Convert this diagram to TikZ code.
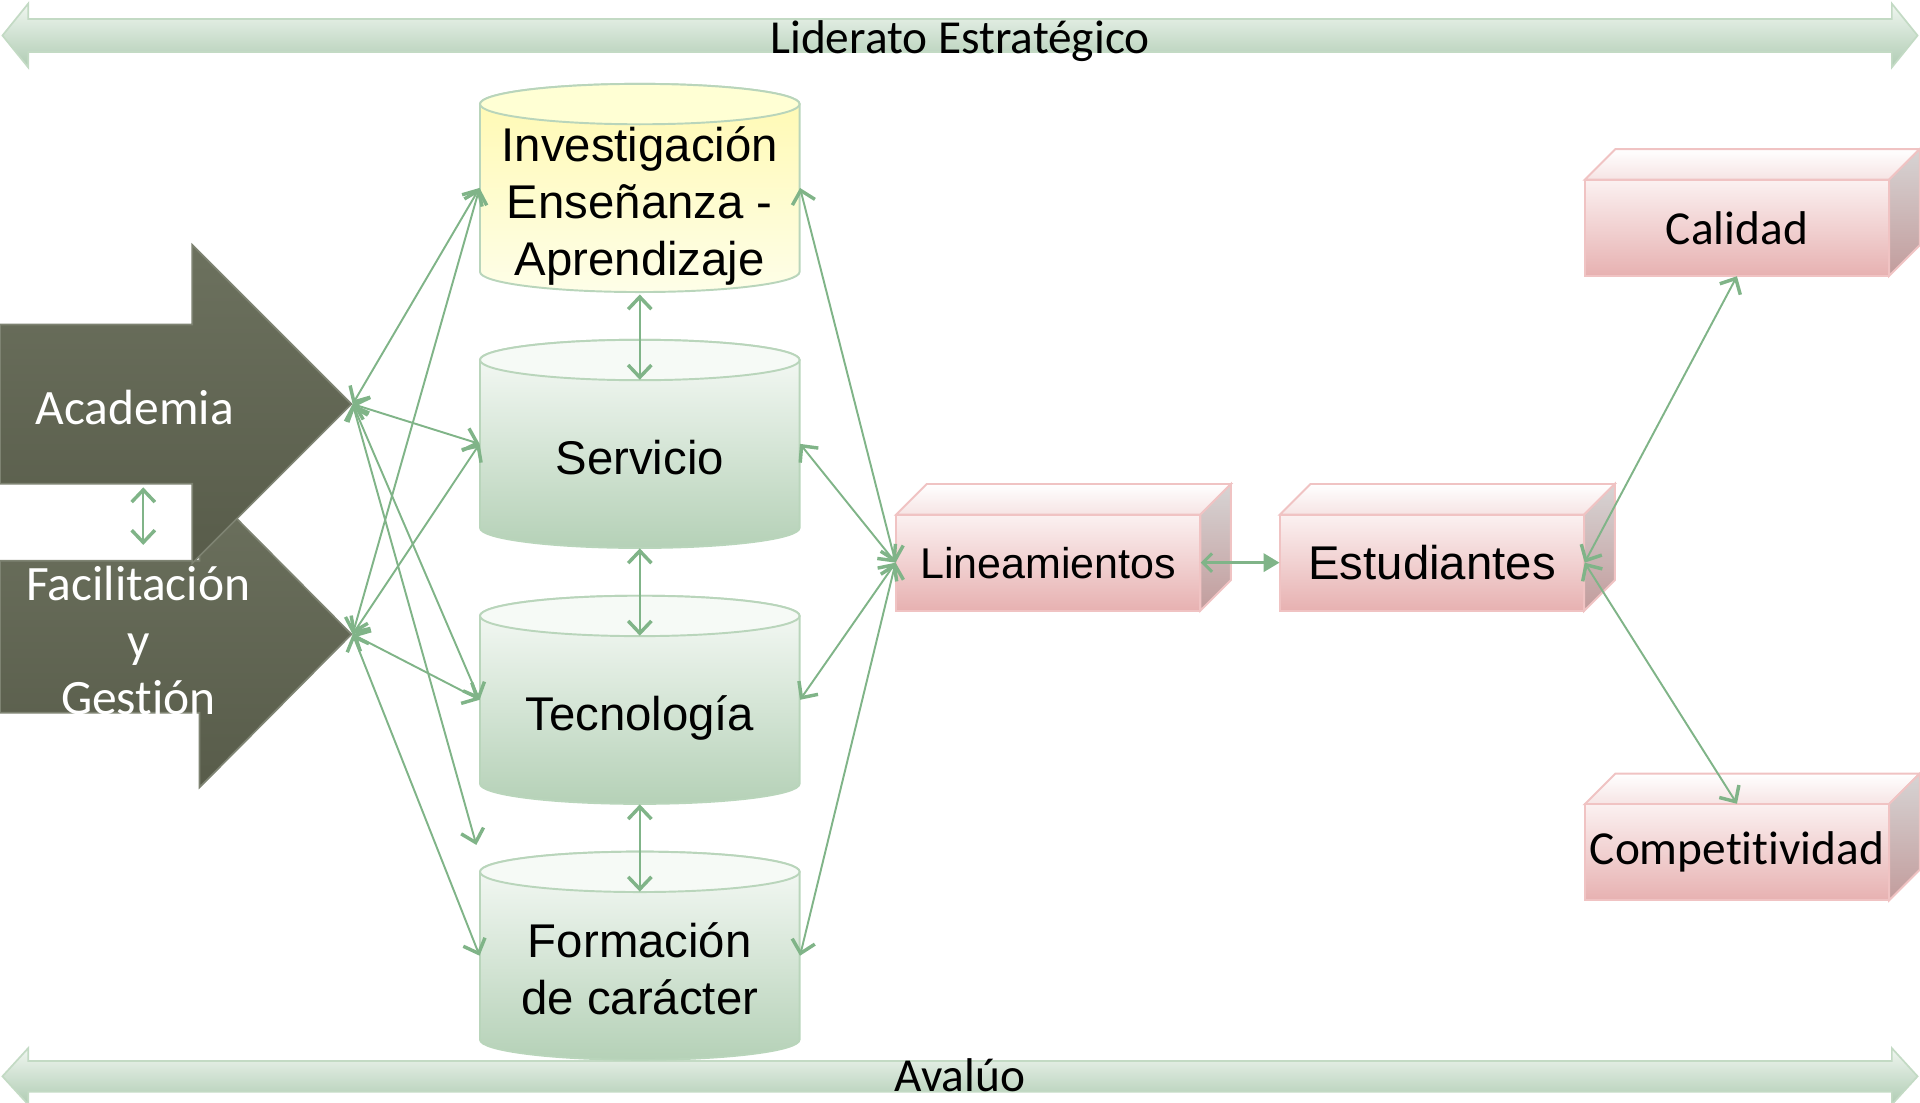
\documentclass[tikz,border=0pt]{standalone}
\usepackage{fontspec}
\setmainfont{Liberation Sans}
\newfontfamily\calib{Carlito}[Ligatures={NoCommon}]
\usetikzlibrary{calc,arrows.meta}

\definecolor{linkgreen}{HTML}{80B488}
\definecolor{arrowlite}{HTML}{6C715E}
\definecolor{arrowdark}{HTML}{585C4A}
\definecolor{arrowedge}{HTML}{7E8372}
\definecolor{bandtop}{HTML}{F0F6F0}
\definecolor{bandmid}{HTML}{CFE2D0}
\definecolor{bandlow}{HTML}{AFCCB3}
\definecolor{bandline}{HTML}{C3DAC4}
\definecolor{drumline}{HTML}{B9D5BB}
\definecolor{greentop}{HTML}{F8FBF8}
\definecolor{greenlow}{HTML}{B5D1B7}
\definecolor{greenlid}{HTML}{F6FAF6}
\definecolor{yelltop}{HTML}{FFF9B0}
\definecolor{yelllow}{HTML}{FEFEE8}
\definecolor{yelllid}{HTML}{FFFFD4}
\definecolor{crateline}{HTML}{F0C3C3}
\definecolor{fronttop}{HTML}{FBF1F1}
\definecolor{frontlow}{HTML}{E7B1B1}
\definecolor{cratelid}{HTML}{F6E4E4}
\definecolor{sidetop}{HTML}{D7D4D4}
\definecolor{sidelow}{HTML}{C29C9C}

% drum: centre x, top y, body top colour, body bottom colour, lid colour
\def\drum(#1,#2)#3#4#5{%
  \shadedraw[top color=#3, bottom color=#4, draw=drumline, line width=0.9pt]
    (#1-2.61,#2) -- (#1-2.61,#2-2.74) arc (180:360:2.61 and 0.33)
    -- (#1+2.61,#2) arc (0:180:2.61 and 0.33) -- cycle;
  \filldraw[fill=#5, draw=drumline, line width=0.9pt] (#1,#2) ellipse (2.61 and 0.33);}
% crate: centre of the front face
\def\crate(#1,#2){%
  \shadedraw[top color=white, bottom color=cratelid, draw=crateline, line width=0.9pt]
    (#1-2.485,#2+0.785) -- ++(0.5,0.5) -- ++(4.97,0) -- ++(-0.5,-0.5) -- cycle;
  \shadedraw[top color=sidetop, bottom color=sidelow, draw=crateline, line width=0.9pt]
    (#1+2.485,#2+0.785) -- ++(0.5,0.5) -- ++(0,-1.57) -- ++(-0.5,-0.5) -- cycle;
  \shadedraw[top color=fronttop, bottom color=frontlow, draw=crateline, line width=0.9pt]
    (#1-2.485,#2-0.785) rectangle (#1+2.485,#2+0.785);}
% band: centre y, shaft half height, head half height
\def\band(#1,#2,#3){%
  \shadedraw[top color=bandtop, middle color=bandmid, bottom color=bandlow, draw=bandline, line width=0.8pt]
    (0.04,#1) -- (0.46,#1+#3) -- (0.46,#1+#2) -- (30.9,#1+#2) -- (30.9,#1+#3)
    -- (31.32,#1) -- (30.9,#1-#3) -- (30.9,#1-#2) -- (0.46,#1-#2) -- (0.46,#1-#3) -- cycle;}
\newcommand\sink[1]{\raisebox{-0.31cm}[\height][\depth]{\begin{tabular}{@{}c@{}}#1\end{tabular}}}

\tikzset{
  link/.style={draw=linkgreen, line width=0.9pt,
    >={Straight Barb[length=0.2cm,width=0.38cm,line width=1.6pt]}, <->},
  short link/.style={draw=linkgreen, line width=1.2pt,
    {Straight Barb[length=0.15cm,width=0.3cm,line width=1.4pt]}-{Triangle[length=0.26cm,width=0.3cm]}},
  bigarrow/.style={top color=arrowlite, bottom color=arrowdark, draw=arrowedge, line width=0.8pt},
  drumtext/.style={minimum width=5.22cm, minimum height=2.74cm, inner sep=0pt,
    font=\fontsize{22}{26.6}\selectfont},
  cratetext/.style={minimum width=4.97cm, minimum height=1.57cm, inner sep=0pt,
    font=\fontsize{22}{26.4}\selectfont},
  arrowtext/.style={text=white, inner sep=0pt, align=center,
    font=\calib\fontsize{23}{26.5}\selectfont},
  bandtext/.style={inner sep=0pt, anchor=base, font=\calib\fontsize{22}{26.4}\selectfont}
}

\begin{document}
\begin{tikzpicture}
  \useasboundingbox (0,0) rectangle (31.36,18);

  %%%%% bands %%%%%
  \band(17.42,0.27,0.52)
  \band(0.42,0.25,0.46)
  \node[bandtext] (lider) at (15.68,17.12) {Liderato Estratégico};
  \node[bandtext] (aval) at (15.68,0.17) {Avalúo};

  %%%%% left arrows %%%%%
  \shadedraw[bigarrow] (0,8.84) -- (3.26,8.84) -- (3.26,10.14) -- (5.74,7.64)
    -- (3.26,5.14) -- (3.26,6.36) -- (0,6.36) -- cycle;
  \shadedraw[bigarrow] (0,12.7) -- (3.14,12.7) -- (3.14,14) -- (5.74,11.4)
    -- (3.14,8.8) -- (3.14,10.1) -- (0,10.1) -- cycle;
  \node[arrowtext] (acad) at (2.2,11.34) {Academia};
  \node[arrowtext] (facil) at (2.26,7.54) {Facilitación\\y\\Gest\kern0pt ión};
  \coordinate (acadtip) at (5.76,11.4);
  \coordinate (faciltip) at (5.76,7.64);
  \coordinate (acadfoot) at (2.34,10.04);
  \coordinate (facilhead) at (2.34,9.1);
  \coordinate (formgap) at (7.78,4.2);

  %%%%% drums %%%%%
  \drum(10.45,16.3){yelltop}{yelllow}{yelllid}
  \drum(10.45,12.12){greentop}{greenlow}{greenlid}
  \drum(10.45,7.94){greentop}{greenlow}{greenlid}
  \drum(10.45,3.76){greentop}{greenlow}{greenlid}
  \node[drumtext] (inv) at (10.45,14.93) {\sink{Investigación\\Enseñanza -\\Aprendizaje}};
  \node[drumtext] (serv) at (10.45,10.75) {\sink{Servicio}};
  \node[drumtext] (tec) at (10.45,6.57) {\sink{Tecnología}};
  \node[drumtext] (form) at (10.45,2.39) {\sink{Formación\\de carácter}};

  %%%%% crates %%%%%
  \crate(17.12,8.81)
  \crate(23.39,8.81)
  \crate(28.37,14.28)
  \crate(28.37,4.08)
  \node[cratetext, font=\fontsize{20}{24}\selectfont] (lin) at (17.12,8.81) {Lineamientos};
  \node[cratetext] (est) at (23.39,8.81) {Estudiantes};
  \node[cratetext, font=\calib\fontsize{22}{26.4}\selectfont] (cal) at (28.37,14.28) {Calidad};
  \node[cratetext, font=\calib\fontsize{22}{26.4}\selectfont] (comp) at (28.37,4.08) {Compet\kern0pt it\kern0pt ividad};

  %%%%% links %%%%%
  \draw[link] (acadfoot) -- (facilhead);
  \draw[link] (acadtip) -- (inv.west);
  \draw[link] (acadtip) -- (serv.west);
  \draw[link] (acadtip) -- (tec.west);
  \draw[link] (acadtip) -- (formgap);
  \draw[link] (faciltip) -- (inv.west);
  \draw[link] (faciltip) -- (serv.west);
  \draw[link] (faciltip) -- (tec.west);
  \draw[link] (faciltip) -- (form.west);

  \draw[link] ([yshift=-0.33cm]inv.south) -- ([yshift=-0.33cm]serv.north);
  \draw[link] ([yshift=-0.33cm]serv.south) -- ([yshift=-0.33cm]tec.north);
  \draw[link] ([yshift=-0.33cm]tec.south) -- ([yshift=-0.33cm]form.north);

  \draw[link] (inv.east) -- (lin.west);
  \draw[link] (serv.east) -- (lin.west);
  \draw[link] (tec.east) -- (lin.west);
  \draw[link] (form.east) -- (lin.west);

  \draw[short link] (lin.east) -- (est.west);
  \draw[link] (est.east) -- (cal.south);
  \draw[link] (est.east) -- (comp.north);
\end{tikzpicture}
\end{document}
